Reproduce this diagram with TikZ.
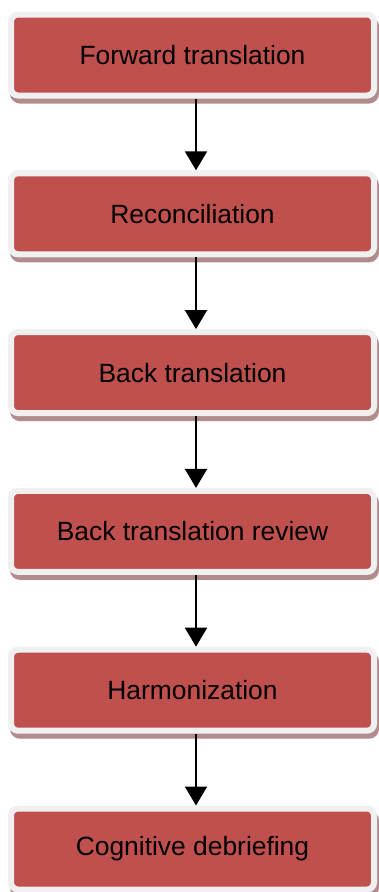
\documentclass[tikz,border=0pt]{standalone}
\usepackage{fontspec}
\setmainfont{Liberation Sans}
\usepackage{tikz}
\usetikzlibrary{arrows.meta,shadows}
\definecolor{stepred}{RGB}{192,80,77}
\definecolor{stepedge}{RGB}{240,240,240}
\definecolor{stepshade}{RGB}{178,140,140}

\begin{document}
\begin{tikzpicture}[x=1pt, y=-1pt,
    stepbox/.style={draw=stepedge, line width=6pt, fill=stepred, rounded corners=7pt,
        minimum width=363pt, minimum height=81pt, inner sep=0pt,
        font=\fontsize{26.4}{30}\selectfont,
        drop shadow={shadow xshift=2pt, shadow yshift=-5pt, fill=stepshade,
            draw=stepshade, line width=6pt, opacity=1}},
    flow/.style={line width=2pt, -{Triangle[width=22pt, length=19pt]}}]
    \useasboundingbox (0,0) rectangle (379,892);

    \node[stepbox] (forward) at (192.5,55) {Forward translation};
    \node[stepbox] (reconcile) at (192.5,213.8) {Reconciliation};
    \node[stepbox] (back) at (192.5,372.6) {Back translation};
    \node[stepbox] (review) at (192.5,531.4) {Back translation review};
    \node[stepbox] (harmon) at (192.5,690.2) {Harmonization};
    \node[stepbox] (debrief) at (192.5,849) {Cognitive debriefing};

    \draw[flow] ([xshift=3.5pt]forward.south) -- ([xshift=3.5pt]reconcile.north);
    \draw[flow] ([xshift=3.5pt]reconcile.south) -- ([xshift=3.5pt]back.north);
    \draw[flow] ([xshift=3.5pt]back.south) -- ([xshift=3.5pt]review.north);
    \draw[flow] ([xshift=3.5pt]review.south) -- ([xshift=3.5pt]harmon.north);
    \draw[flow] ([xshift=3.5pt]harmon.south) -- ([xshift=3.5pt]debrief.north);
\end{tikzpicture}
\end{document}
